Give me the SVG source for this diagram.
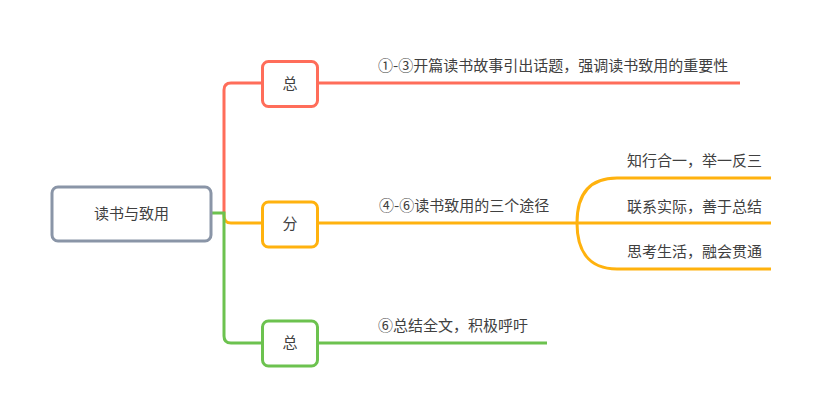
<svg xmlns="http://www.w3.org/2000/svg" width="820" height="416" viewBox="0 0 820 416">
<style>
text{font-family:"Noto Sans CJK SC","Microsoft YaHei",sans-serif;font-size:15px;fill:#404040}
.box{fill:#fff;stroke-width:3}
.ln{fill:none;stroke-width:3;stroke-linecap:butt}
.red{stroke:#ff6d5a}
.org{stroke:#ffb20e}
.grn{stroke:#6cc24f}
.c{text-anchor:middle}
</style>
<rect width="820" height="416" fill="#fff"/>
<g id="connectors">
<path class="ln red" d="M224,213 V90 Q224,83 231,83 H262"/>
<path class="ln org" d="M224,213 V216 Q224,223 231,223 H262"/>
<path class="ln grn" d="M212,213 H224 V336 Q224,343 231,343 H262"/>
<path class="ln red" d="M318,83 H740"/>
<path class="ln org" d="M318,223 H577"/>
<path class="ln org" d="M577,223 C577,196 588,178 617,178 H771"/>
<path class="ln org" d="M577,223 H771"/>
<path class="ln org" d="M577,223 C577,250 588,269 617,269 H771"/>
<path class="ln grn" d="M318,343 H547"/>
</g>
<g id="root">
<rect class="box" x="52" y="187" width="159" height="54" rx="6" stroke="#8a95a7"/>
<text class="c" x="131.5" y="219">读书与致用</text>
</g>
<g id="n1">
<rect class="box red" x="262.5" y="61.5" width="55" height="45" rx="6"/>
<text class="c" x="290" y="89">总</text>
</g>
<g id="n2">
<rect class="box org" x="262.5" y="202" width="55" height="45" rx="6"/>
<text class="c" x="290" y="229">分</text>
</g>
<g id="n3">
<rect class="box grn" x="262.5" y="321" width="55" height="45" rx="6"/>
<text class="c" x="290" y="348">总</text>
</g>
<g id="t1"><text x="378" y="71">①-③开篇读书故事引出话题，强调读书致用的重要性</text></g>
<g id="t2"><text x="379" y="211">④-⑥读书致用的三个途径</text></g>
<g id="t21"><text x="627" y="166">知行合一，举一反三</text></g>
<g id="t22"><text x="627" y="212">联系实际，善于总结</text></g>
<g id="t23"><text x="627" y="257">思考生活，融会贯通</text></g>
<g id="t3"><text x="378" y="331">⑥总结全文，积极呼吁</text></g>
</svg>
